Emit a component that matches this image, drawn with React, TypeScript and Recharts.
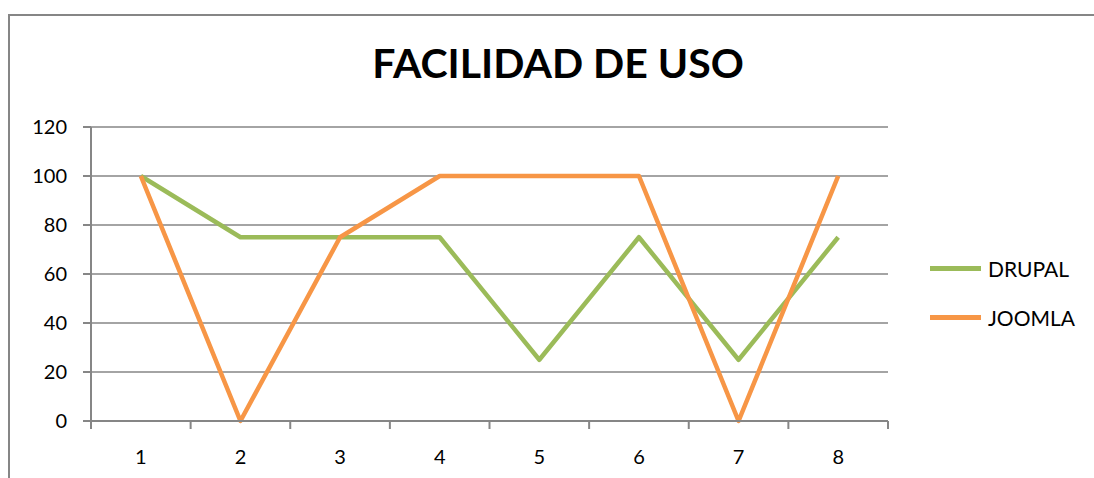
import { LineChart, Line, XAxis, YAxis, CartesianGrid, Legend } from 'recharts';

const categories = [1, 2, 3, 4, 5, 6, 7, 8];
const drupal = [100, 75, 75, 75, 25, 75, 25, 75];
const joomla = [100, 0, 75, 100, 100, 100, 0, 100];
const yTicks = [0, 20, 40, 60, 80, 100, 120];

const series = [
  { key: 'drupal', name: 'DRUPAL', color: '#9BBB59' },
  { key: 'joomla', name: 'JOOMLA', color: '#F79646' },
];

const data = categories.map((c, i) => ({ cat: c, drupal: drupal[i], joomla: joomla[i] }));
// Excel-style tick marks sit between categories
const boundaries = [...categories.map((c) => c - 0.5), categories[categories.length - 1] + 0.5];

const FONT = 'Lato, "Open Sans", sans-serif';
const AXIS = '#868686';

function LegendBox() {
  return (
    <div style={{ fontFamily: FONT, fontSize: 21, color: '#000' }}>
      {series.map((s) => (
        <div key={s.key} style={{ display: 'flex', alignItems: 'center', height: 49 }}>
          <div style={{ width: 51, height: 5, background: s.color, marginRight: 7 }} />
          <span>{s.name}</span>
        </div>
      ))}
    </div>
  );
}

export default function App() {
  return (
    <div style={{ position: 'absolute', left: 0, top: 0, width: 1094, height: 478, background: '#fff', overflow: 'hidden' }}>
      {/* chart frame, only the left and top edges are in view */}
      <div style={{ position: 'absolute', left: 8, top: 14, width: 1200, height: 600, border: `2px solid ${AXIS}`, boxSizing: 'border-box' }} />
      <div
        style={{
          position: 'absolute',
          left: 0,
          width: 1116,
          top: 38,
          textAlign: 'center',
          fontFamily: FONT,
          fontWeight: 700,
          fontSize: 41,
          color: '#000',
        }}
      >
        FACILIDAD DE USO
      </div>
      <div style={{ position: 'absolute', left: 0, top: 0 }}>
        <LineChart width={1094} height={478} data={data} margin={{ top: 127, right: 206, left: 31, bottom: 27 }}>
          <CartesianGrid horizontal vertical={false} stroke={AXIS} strokeWidth={1.5} />
          {/* axis line + boundary tick marks */}
          <XAxis
            dataKey="cat"
            type="number"
            domain={[0.5, 8.5]}
            ticks={boundaries}
            allowDecimals
            axisLine={{ stroke: AXIS, strokeWidth: 2 }}
            tickLine={{ stroke: AXIS, strokeWidth: 2 }}
            tickSize={8}
            tickFormatter={() => ''}
            height={8}
          />
          {/* category labels */}
          <XAxis
            xAxisId="labels"
            dataKey="cat"
            type="number"
            domain={[0.5, 8.5]}
            ticks={categories}
            allowDecimals
            axisLine={false}
            tickLine={false}
            tickSize={0}
            tickMargin={21}
            height={22}
            tick={{ fill: '#000', fontSize: 20, fontFamily: FONT }}
          />
          <YAxis
            domain={[0, 120]}
            ticks={yTicks}
            width={60}
            axisLine={{ stroke: AXIS, strokeWidth: 2 }}
            tickLine={{ stroke: AXIS, strokeWidth: 2 }}
            tickSize={8}
            tickMargin={16}
            tick={{ fill: '#000', fontSize: 20, fontFamily: FONT }}
          />
          <Legend
            layout="horizontal"
            align="center"
            verticalAlign="middle"
            wrapperStyle={{ left: 930, top: 244, width: 160 }}
            content={() => <LegendBox />}
          />
          {series.map((s) => (
            <Line
              key={s.key}
              dataKey={s.key}
              name={s.name}
              stroke={s.color}
              strokeWidth={4.5}
              dot={false}
              activeDot={false}
              strokeLinejoin="round"
              isAnimationActive={false}
            />
          ))}
        </LineChart>
      </div>
    </div>
  );
}
